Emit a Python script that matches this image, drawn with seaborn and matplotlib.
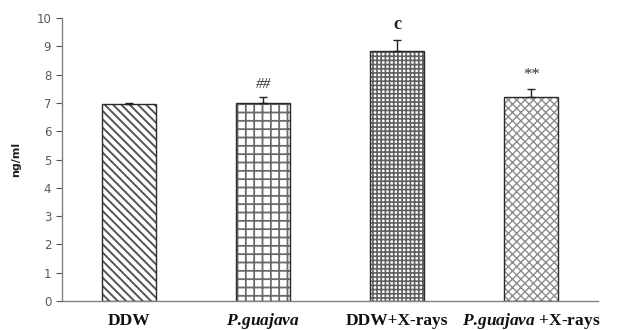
"""Bar chart of ng/ml by treatment group with hatched bars."""

import matplotlib

matplotlib.use("Agg")

import matplotlib.pyplot as plt
import pandas as pd
import seaborn as sns

groups = ["DDW", "P.guajava", "DDW+X-rays", "P.guajava +X-rays"]
tick_labels = ["DDW", r"$\mathit{P.\!guajava}$", "DDW+X-rays", r"$\mathit{P.\!guajava}$ +X-rays"]
means = [6.95, 7.0, 8.83, 7.22]
errors = [0.06, 0.21, 0.38, 0.27]
marks = ["", "##", "c", "**"]

hatches = ["\\\\\\\\", "++", "++++", "xxxx"]
hatch_colors = ["#555555", "#6a6a6a", "#606060", "#8c8c8c"]
hatch_widths = [1.4, 1.3, 1.2, 1.0]


def main() -> None:
    sns.set_theme(style="white")
    plt.rcParams["mathtext.fontset"] = "custom"
    plt.rcParams["mathtext.it"] = "Liberation Serif:italic:bold"
    plt.rcParams["mathtext.rm"] = "Liberation Serif:bold"
    plt.rcParams["hatch.linewidth"] = 1.2

    df = pd.DataFrame({"group": groups, "value": means})

    fig = plt.figure(figsize=(6.29, 3.30), dpi=100)
    ax = fig.add_axes([0.099, 0.088, 0.852, 0.857])
    sns.barplot(data=df, x="group", y="value", color="white", width=0.4,
                edgecolor="#2a2a2a", linewidth=1.0, errorbar=None, ax=ax)

    for bar, hatch, hc, hw in zip(ax.patches, hatches, hatch_colors, hatch_widths):
        bar.set_hatch(hatch)
        bar._hatch_color = matplotlib.colors.to_rgba(hc)
        if hasattr(bar, "set_hatch_linewidth"):
            bar.set_hatch_linewidth(hw)

    xs = range(len(groups))
    ax.errorbar(list(xs), means, yerr=[[0] * len(errors), errors], fmt="none",
                ecolor="#222222", elinewidth=1.0, capsize=3, capthick=1.0)

    for x, m, e, mark in zip(xs, means, errors, marks):
        if not mark:
            continue
        if mark == "c":
            ax.text(x, m + e + 0.25, mark, ha="center", va="bottom",
                    fontsize=13, fontweight="bold", family="Liberation Serif", color="#222222")
        elif mark == "##":
            ax.text(x, m + e + 0.2, mark, ha="center", va="bottom",
                    fontsize=11, style="italic", family="Liberation Serif", color="#333333")
        else:
            ax.text(x, m + e + 0.2, mark, ha="center", va="bottom",
                    fontsize=12, family="Liberation Serif", color="#333333")

    ax.set_xlim(-0.5, 3.5)
    ax.set_ylim(0, 10)
    ax.set_yticks(range(0, 11))
    ax.set_xticks(list(xs))
    ax.set_xticklabels(tick_labels, family="Liberation Serif", fontweight="bold",
                       fontsize=12.5, color="#111111")
    for lbl in ax.get_xticklabels():
        lbl.set_verticalalignment("baseline")
    ax.set_xticks([0.5, 1.5, 2.5, 3.5], minor=True)
    ax.tick_params(axis="x", which="major", length=0, pad=17)
    ax.tick_params(axis="x", which="minor", length=4, width=0.8, color="#555555", direction="out")
    ax.tick_params(axis="y", length=4, width=0.8, color="#555555", direction="out",
                   labelsize=8.5, labelcolor="#595959", left=True, pad=4)
    ax.set_xlabel("")
    ax.set_ylabel("ng/ml", fontsize=8, fontweight="bold", labelpad=11, color="#222222")

    for side in ["top", "right"]:
        ax.spines[side].set_visible(False)
    for side in ["left", "bottom"]:
        ax.spines[side].set_color("#808080")
        ax.spines[side].set_linewidth(1.0)

    fig.savefig("out.png", dpi=100)
    plt.close(fig)


if __name__ == "__main__":
    main()
